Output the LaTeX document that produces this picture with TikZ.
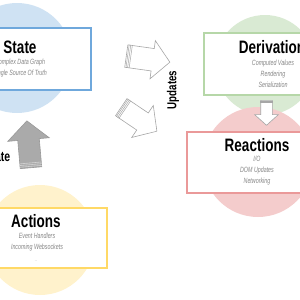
\documentclass[tikz,border=0pt]{standalone}
\usepackage{fontspec}
\usetikzlibrary{shapes.arrows,calc}
\newfontfamily\headfont[FakeStretch=0.75]{Liberation Sans}
\newfontfamily\notefont[FakeStretch=0.7]{Liberation Sans}
\definecolor{stateblue}{HTML}{CFE2F3}
\definecolor{stateline}{HTML}{6FA8DC}
\definecolor{derivgreen}{HTML}{D9EAD3}
\definecolor{derivline}{HTML}{B6D7A8}
\definecolor{reactred}{HTML}{F4CCCC}
\definecolor{reactline}{HTML}{EA9999}
\definecolor{actyellow}{HTML}{FFF2CC}
\definecolor{actline}{HTML}{FFD966}
\definecolor{arrowgray}{HTML}{AAAAAA}

\begin{document}
\begin{tikzpicture}[x=1pt,y=-1pt,
    blob/.style={circle, inner sep=0pt, minimum size=#1},
    card/.style={rectangle, draw=#1, line width=1.6pt, fill=white, inner sep=0pt},
    heading/.style={font=\headfont\bfseries\fontsize{18}{20}\selectfont, inner sep=0pt},
    note/.style={font=\notefont\itshape\fontsize{7.6}{11}\selectfont, text=gray!95, align=center, inner sep=0pt},
    blockarrow/.style={single arrow, draw=gray!70, line width=0.6pt, fill=white, inner sep=0pt,
        single arrow tip angle=96, anchor=tail}]
    \useasboundingbox (0,0) rectangle (300,300);
    % Circles
    \node[blob=110pt, fill=stateblue] (statedot) at (17,58) {};
    \node[blob=100pt, fill=derivgreen] (derivdot) at (265,65) {};
    \node[blob=110pt, fill=reactred] (reactdot) at (258,162) {};
    \node[blob=110pt, fill=actyellow] (actdot) at (40,240) {};
    % Cards
    \node[card=stateline, minimum width=142pt, minimum height=62pt] (statebox) at (20,59) {};
    \node[card=derivline, minimum width=134pt, minimum height=62pt] (derivbox) at (271,64) {};
    \node[card=reactline, minimum width=140pt, minimum height=61pt] (reactbox) at (257,162.5) {};
    \node[card=actline, minimum width=142pt, minimum height=60pt] (actbox) at (36,238) {};
    % Texts
    \node[heading] (statetitle) at (20,47) {State};
    \node[note] (statenote) at (20,68.5) {Complex Data Graph\\Single Source Of Truth};
    \node[heading] (derivtitle) at (272,47) {Derivation};
    \node[note] (derivnote) at (273,73.5) {Computed Values\\Rendering\\Serialization};
    \node[heading] (reacttitle) at (257,145) {Reactions};
    \node[note] (reactnote) at (257,171) {I/O\\DOM Updates\\Networking};
    \node[heading] (acttitle) at (36,221) {Actions};
    \node[note] (actnote) at (37,242.5) {Event Handlers\\Incoming Websockets};
    \node[note, text=gray!40, font=\notefont\fontsize{5}{6}\selectfont] (actdash) at (36,262) {--};
    \node[heading, font=\headfont\bfseries\fontsize{13}{15}\selectfont, rotate=90] (updlabel) at (173,90) {Updates};
    \node[heading, font=\headfont\bfseries\fontsize{14}{16}\selectfont, anchor=east] (mutlabel) at (10.5,157) {Mutate};
    % Arrows
    \node[blockarrow, minimum height=44pt, inner ysep=11pt, single arrow head extend=8pt, rotate=-8] (toderiv) at (126,56) {};
    \node[blockarrow, minimum height=43pt, inner ysep=10pt, single arrow head extend=9pt, rotate=-34] (toreact) at (121,107) {};
    \node[blockarrow, minimum height=25pt, inner ysep=5.5pt, single arrow head extend=6pt, rotate=-90] (downhop) at (266.5,100) {};
    \node[blockarrow, fill=arrowgray, draw=gray!80, minimum height=47pt, inner ysep=10.5pt, single arrow head extend=10pt, rotate=95] (tostate) at (31,168) {};
    % Stripes
    \foreach \a in {toderiv,toreact,downhop}{
        \foreach \f in {0.06,0.12,0.18}{
            \draw[gray!70, line width=0.5pt] ($(\a.before tail)!\f!(\a.after head)$) -- ($(\a.after tail)!\f!(\a.before head)$);
        }
    }
    \foreach \f in {0.06,0.12,0.18}{
        \draw[gray!35, line width=0.6pt] ($(tostate.before tail)!\f!(tostate.after head)$) -- ($(tostate.after tail)!\f!(tostate.before head)$);
    }
\end{tikzpicture}
\end{document}
